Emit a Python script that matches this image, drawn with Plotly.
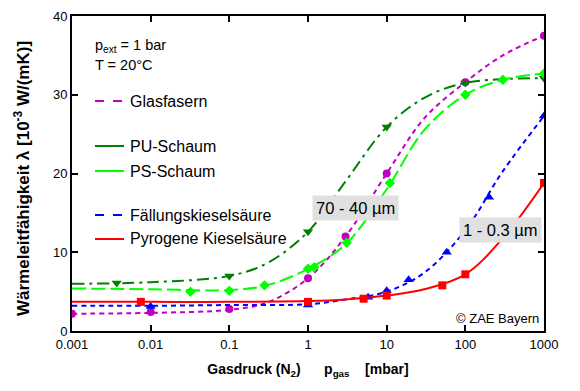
import plotly.graph_objects as go

# ---------------- data ----------------
glas_mx = [0.001, 0.01, 0.1, 1, 3, 10, 100, 1000]
glas_my = [2.2, 2.4, 2.8, 6.7, 12.0, 20.0, 31.6, 37.5]
glas_cx = [0.001, 0.01, 0.1, 0.3, 1, 3, 10, 30, 100, 300, 1000]
glas_cy = [2.2, 2.3, 2.7, 3.6, 6.7, 12.0, 20.0, 27.0, 31.6, 35.0, 37.5]

pu_mx = [0.0037, 0.1, 1, 10, 100, 1000]
pu_my = [6.1, 7.0, 12.6, 25.9, 31.5, 32.1]
pu_cx = [0.001, 0.01, 0.1, 0.3, 1, 3, 10, 30, 100, 1000]
pu_cy = [6.0, 6.2, 7.0, 8.6, 12.6, 19.0, 25.9, 29.6, 31.5, 32.1]

ps_mx = [0.032, 0.1, 0.28, 1, 1.2, 3.1, 11, 100, 300, 1000]
ps_my = [5.0, 5.1, 5.8, 7.9, 8.1, 11.2, 18.8, 30.0, 31.9, 32.7]
ps_cx = [0.001, 0.01, 0.1, 0.3, 1, 3, 10, 30, 100, 300, 1000]
ps_cy = [5.4, 5.3, 5.2, 5.8, 7.9, 11.0, 18.0, 25.5, 30.0, 31.9, 32.7]

fk_mx = [0.01, 1, 5.8, 10, 19, 58, 200, 1000]
fk_my = [3.1, 3.3, 4.3, 5.1, 6.5, 10.0, 17.0, 27.3]
fk_cx = [0.001, 0.01, 0.1, 1, 3, 10, 30, 100, 300, 1000]
fk_cy = [3.2, 3.2, 3.3, 3.4, 4.0, 5.0, 7.4, 12.8, 20.3, 27.3]

py_mx = [0.0075, 1, 5.1, 10, 51, 100, 1000]
py_my = [3.7, 3.7, 4.1, 4.5, 5.8, 7.2, 18.8]
py_cx = [0.001, 0.01, 0.1, 1, 3, 10, 30, 100, 300, 1000]
py_cy = [3.7, 3.7, 3.7, 3.8, 4.0, 4.5, 5.3, 7.2, 11.8, 18.8]

x_ticks = [0.001, 0.01, 0.1, 1, 10, 100, 1000]
x_ticklabels = ["0.001", "0.01", "0.1", "1", "10", "100", "1000"]
y_ticks = [0, 10, 20, 30, 40]

series = [
    # name, curve x, curve y, marker x, marker y, color, dash, symbol, legend dash
    ("Glasfasern", glas_cx, glas_cy, glas_mx, glas_my, "#c000c0", "5px,4px", "circle", "dash"),
    ("PU-Schaum", pu_cx, pu_cy, pu_mx, pu_my, "#008000", "12px,5px,3px,5px", "triangle-down", "solid"),
    ("PS-Schaum", ps_cx, ps_cy, ps_mx, ps_my, "#00ff00", "14px,5px", "diamond", "solid"),
    ("Fällungskieselsäure", fk_cx, fk_cy, fk_mx, fk_my, "#0000ff", "5px,4px", "triangle-up", "dash"),
    ("Pyrogene Kieselsäure", py_cx, py_cy, py_mx, py_my, "#ff0000", "solid", "square", "solid"),
]
legend_ypx = [101, 146, 171, 215, 239]

FONT = "Liberation Sans, Arial, sans-serif"

fig = go.Figure()
for name, cx, cy, mx, my, col, dash, sym, ldash in series:
    fig.add_trace(go.Scatter(x=cx, y=cy, mode="lines", name=name,
                             line=dict(color=col, width=2, dash=dash, shape="spline", smoothing=1.0),
                             showlegend=False, hoverinfo="skip"))
    fig.add_trace(go.Scatter(x=mx, y=my, mode="markers", name=name,
                             marker=dict(color=col, size=9 if "triangle" in sym else 8,
                                         symbol=sym, line=dict(width=0)),
                             showlegend=False))

# plot area in pixels
L, R, T, B = 72, 544, 16, 331
W, H = R - L, B - T
def px(xp):
    return (xp - L) / W
def py(yp):
    return (B - yp) / H

shapes = []
annotations = []
for (name, cx, cy, mx, my, col, dash, sym, ldash), yp in zip(series, legend_ypx):
    shapes.append(dict(type="line", xref="paper", yref="paper",
                       x0=px(95), x1=px(124), y0=py(yp), y1=py(yp),
                       line=dict(color=col, width=2, dash=ldash)))
    annotations.append(dict(text=name, xref="paper", yref="paper", x=px(128), y=py(yp),
                            xanchor="left", yanchor="middle", showarrow=False,
                            font=dict(family=FONT, size=16, color="black")))

annotations += [
    dict(text="p<sub>ext</sub> = 1 bar", xref="paper", yref="paper", x=px(93), y=py(46),
         xanchor="left", yanchor="middle", showarrow=False, font=dict(family=FONT, size=14.5, color="black")),
    dict(text="T = 20°C", xref="paper", yref="paper", x=px(93), y=py(65),
         xanchor="left", yanchor="middle", showarrow=False, font=dict(family=FONT, size=14.5, color="black")),
    dict(text="70 - 40 µm", xref="paper", yref="paper", x=px(355), y=py(207.5),
         xanchor="center", yanchor="middle", showarrow=False, bgcolor="#e0e0e0",
         borderpad=3, font=dict(family=FONT, size=16.5, color="black")),
    dict(text="1 - 0.3 µm", xref="paper", yref="paper", x=px(500.5), y=py(229.5),
         xanchor="center", yanchor="middle", showarrow=False, bgcolor="#e0e0e0",
         borderpad=3, font=dict(family=FONT, size=16.5, color="black")),
    dict(text="© ZAE Bayern", xref="paper", yref="paper", x=px(541), y=py(318),
         xanchor="right", yanchor="middle", showarrow=False, font=dict(family=FONT, size=13, color="black")),
    # y-axis title
    dict(text="<b>Wärmeleitfähigkeit λ [10<sup>-3</sup> W/(mK)]</b>", xref="paper", yref="paper",
         x=px(22), y=py(179), xanchor="center", yanchor="middle", textangle=-90, showarrow=False,
         font=dict(family=FONT, size=17, color="black")),
]

axis_common = dict(showline=True, linecolor="black", linewidth=2, mirror="ticks",
                   ticks="inside", ticklen=6, tickwidth=2, tickcolor="black",
                   showgrid=False, zeroline=False, automargin=False,
                   tickfont=dict(family=FONT, size=13, color="black"))

NB = "&nbsp;"
fig.update_layout(
    template="none",
    width=580, height=391,
    margin=dict(l=L, r=580 - R, t=T, b=391 - B, pad=0),
    paper_bgcolor="white", plot_bgcolor="white",
    showlegend=False,
    shapes=shapes, annotations=annotations,
    xaxis=dict(type="log", range=[-3, 3], tickvals=x_ticks, ticktext=x_ticklabels,
               title=dict(text="<b>Gasdruck (N<sub>2</sub>)" + NB * 6 + "p<sub>gas</sub>" + NB * 4 + "[mbar]</b>",
                          font=dict(family=FONT, size=14, color="black"), standoff=14),
               **axis_common),
    yaxis=dict(range=[0, 40], tickvals=y_ticks, **axis_common),
)

fig.write_html("out.html", config={"displayModeBar": False},
               post_script="document.body.style.margin='0';document.body.style.padding='0';")
